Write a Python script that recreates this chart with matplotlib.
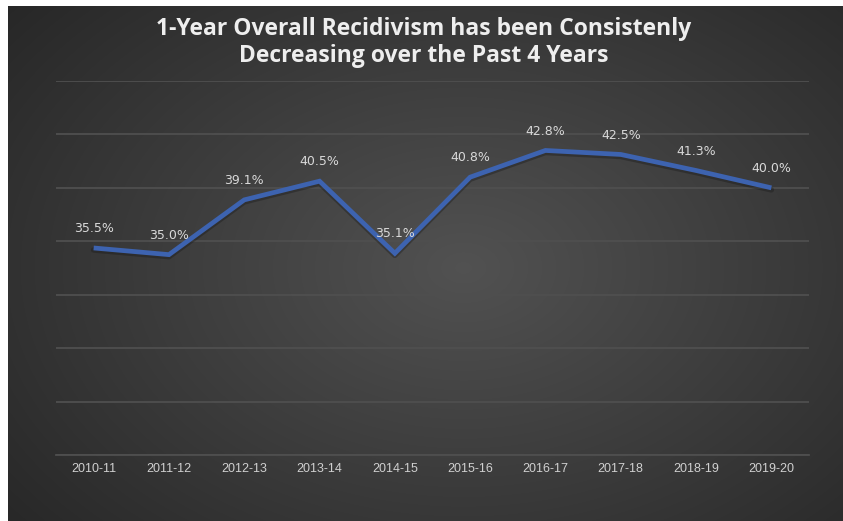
import numpy as np
import matplotlib
matplotlib.use("Agg")
import matplotlib.pyplot as plt
from matplotlib.transforms import ScaledTranslation

years = ["2010-11", "2011-12", "2012-13", "2013-14", "2014-15",
         "2015-16", "2016-17", "2017-18", "2018-19", "2019-20"]
recidivism = [35.5, 35.0, 39.1, 40.5, 35.1, 40.8, 42.8, 42.5, 41.3, 40.0]
y_ticks = [20, 24, 28, 32, 36, 40, 44, 48]

W, H = 843, 521
fig = plt.figure(figsize=(W / 100, H / 100), dpi=100)
fig.patch.set_facecolor("white")

# dark panel with a soft radial glow (slightly oversized so it reaches the edges)
bg = fig.add_axes([8 / W, -0.02, 1.02, 1.02 - 6 / H])
bg.set_facecolor("#2a2a2a")
bg.set_xticks([])
bg.set_yticks([])
for s in bg.spines.values():
    s.set_visible(False)
nx, ny = 400, 250
gx, gy = np.meshgrid(np.linspace(0, 1, nx), np.linspace(0, 1, ny))
r = np.sqrt(((gx - 0.53) / 0.75) ** 2 + ((gy - 0.50) / 0.85) ** 2)
shade = np.clip(0.32 - 0.18 * r, 0.15, 0.32)
bg.imshow(np.dstack([shade] * 3), extent=[0, 1, 0, 1], aspect="auto",
          origin="upper", interpolation="bilinear")
bg.set_xlim(0, 1)
bg.set_ylim(0, 1)

ax = fig.add_axes([56 / W, 1 - 455 / H, 753 / W, 374 / H])
ax.patch.set_alpha(0)
x = np.arange(len(years))
shadow = ax.transData + ScaledTranslation(0, -2 / 100, fig.dpi_scale_trans)
ax.plot(x, recidivism, color="#151515", lw=4.0, alpha=0.35,
        solid_capstyle="round", zorder=2, transform=shadow)
ax.plot(x, recidivism, color="#3d63b0", lw=3.4, solid_joinstyle="miter",
        solid_capstyle="butt", zorder=3)

for xi, v in zip(x, recidivism):
    ax.annotate(f"{v:.1f}%", (xi, v), xytext=(0, 14), textcoords="offset points",
                ha="center", va="center", color="#d9d9d9", fontsize=9,
                family="DejaVu Sans", zorder=4)

ax.set_xlim(-0.5, len(years) - 0.5)
ax.set_ylim(y_ticks[0], y_ticks[-1])
ax.set_yticks(y_ticks)
ax.yaxis.grid(True, color="#4f4f4f", lw=1.3)
ax.set_axisbelow(True)
ax.tick_params(axis="y", left=False, labelleft=False)
ax.set_xticks(x)
ax.set_xticklabels(years, color="#d0d0d0", fontsize=9, family="Liberation Sans")
ax.tick_params(axis="x", length=0, pad=6)
for s in ["top", "right", "left"]:
    ax.spines[s].set_visible(False)
ax.spines["bottom"].set_color("#4f4f4f")
ax.spines["bottom"].set_linewidth(1.3)

fig.text(0.503, 1 - 42.5 / H,
         "1-Year Overall Recidivism has been Consistenly\nDecreasing over the Past 4 Years",
         ha="center", va="center", color="#eeeeee", fontsize=16.5,
         fontweight="bold", family="Open Sans", linespacing=1.22)

fig.savefig("out.png", dpi=100, facecolor=fig.get_facecolor())
